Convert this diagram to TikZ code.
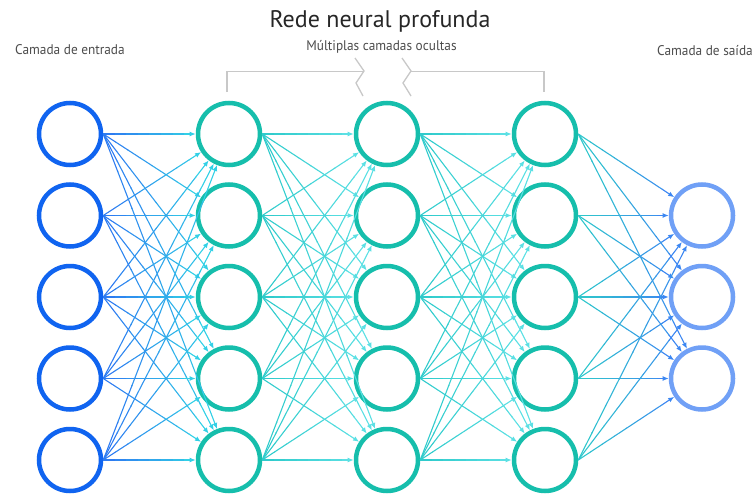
\documentclass[tikz,border=0pt]{standalone}
\usepackage{fontspec}
\setmainfont{PT Sans}
\newfontfamily\labelfont[FakeStretch=0.95]{PT Sans}
\usetikzlibrary{calc,arrows.meta}

\definecolor{inblue}{RGB}{16,100,240}
\definecolor{hidteal}{RGB}{22,190,172}
\definecolor{outblue}{RGB}{112,160,246}
\definecolor{edgeblue}{RGB}{45,118,242}
\definecolor{edgecyan}{RGB}{50,208,230}
\definecolor{edgeteal}{RGB}{45,202,202}
\definecolor{edgelight}{RGB}{92,224,228}
\definecolor{edgeout}{RGB}{60,135,242}
\definecolor{bracketgray}{RGB}{200,200,200}

\tikzset{
  neuron/.style={circle, draw, line width=4.5pt, minimum size=62pt, inner sep=0pt, fill=white},
  edge/.style={line width=1.1pt},
  tip/.style={-{Latex[length=6pt,width=5pt]}},
  bracket/.style={draw=bracketgray, line width=1.3pt},
  caption/.style={inner sep=0pt, font=\labelfont\fontsize{14}{16}\selectfont, text=black!70},
}

% edge from the east side of #1 to the rim of #2, coloured from #3 to #4
\newcommand\gradedge[4]{%
  \coordinate (gs) at (#1.east);
  \coordinate (ge) at ($(#2.center)!33.3pt!(#1.east)$);
  \foreach \k in {0,...,6}{%
    \pgfmathsetmacro\ta{\k/8}%
    \pgfmathsetmacro\tb{(\k+1)/8+0.004}%
    \pgfmathtruncatemacro\pc{100*(\k+0.5)/8}%
    \draw[edge, draw=#4!\pc!#3] ($(gs)!\ta!(ge)$) -- ($(gs)!\tb!(ge)$);
  }%
  \draw[edge, tip, draw=#4, fill=#4] ($(gs)!0.875!(ge)$) -- (ge);
}

\begin{document}
\begin{tikzpicture}[x=1pt,y=-1pt]
\useasboundingbox (0,0) rectangle (754,495);

% titles
\node[anchor=base, inner sep=0pt, font=\fontsize{24}{28}\selectfont, text=black!85] (title) at (380,28) {Rede neural profunda};
\node[caption, anchor=base] (sub) at (381.5,50.5) {Múltiplas camadas ocultas};
\node[caption, anchor=base west] (inlab) at (15,55) {Camada de entrada};
\node[caption, anchor=base east] (outlab) at (753,55.5) {Camada de saída};

% bracket over the hidden layers
\draw[bracket] (227,92) -- (227,71.5) -- (364,71.5);
\draw[bracket] (355,58) -- (364,71) -- (356,83) -- (363,96);
\draw[bracket] (402,58) -- (411,71) -- (403,83) -- (411,96);
\draw[bracket] (411,71.5) -- (544,71.5) -- (544,92);

% layers
\foreach \r in {1,...,5}{
  \pgfmathsetmacro\yy{134+81.5*(\r-1)}
  \node[neuron, draw=inblue]  (i\r) at (70,\yy) {};
  \node[neuron, draw=hidteal] (a\r) at (229,\yy) {};
  \node[neuron, draw=hidteal] (b\r) at (387,\yy) {};
  \node[neuron, draw=hidteal] (c\r) at (545,\yy) {};
}
\foreach \r in {1,2,3}{
  \pgfmathsetmacro\yy{215.5+81.5*(\r-1)}
  \node[neuron, draw=outblue] (o\r) at (702,\yy) {};
}

% connections
\foreach \s in {1,...,5}{
  \foreach \t in {1,...,5}{
    \gradedge{i\s}{a\t}{edgeblue}{edgecyan}
    \gradedge{a\s}{b\t}{edgeteal}{edgelight}
    \gradedge{b\s}{c\t}{edgeteal}{edgelight}
  }
  \foreach \t in {1,2,3}{
    \gradedge{c\s}{o\t}{edgeteal}{edgeout}
  }
}
\end{tikzpicture}
\end{document}
